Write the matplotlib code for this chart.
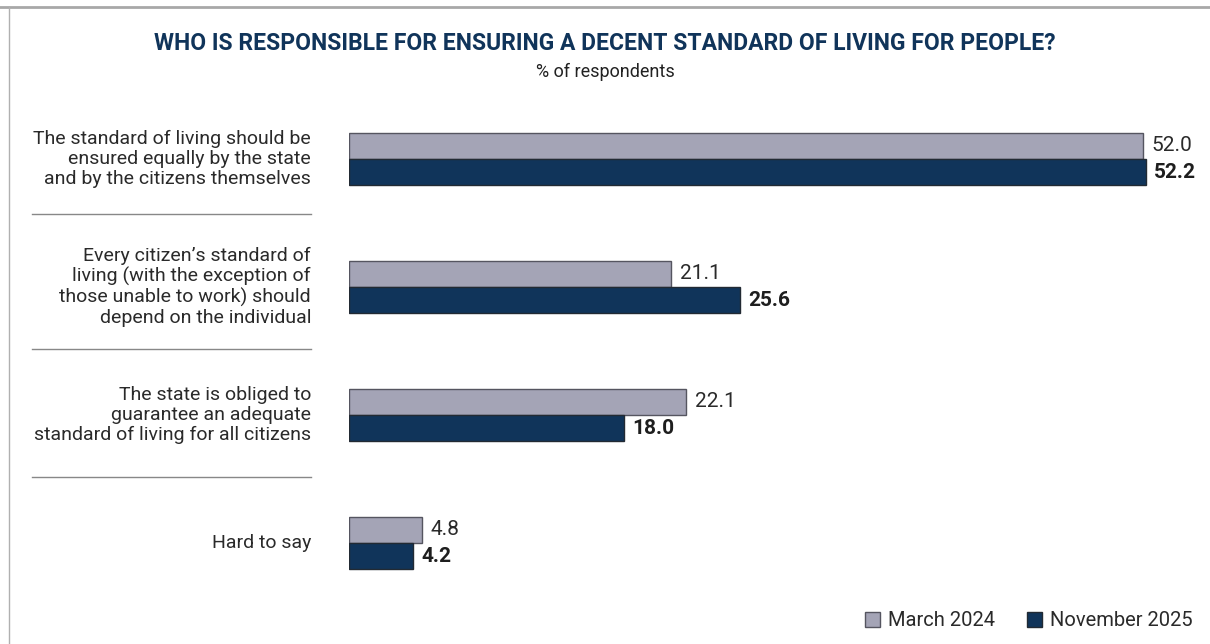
import numpy as np
import matplotlib.pyplot as plt
from matplotlib.lines import Line2D
from matplotlib.patches import Patch

plt.rcParams['font.family'] = ['Roboto', 'DejaVu Sans']

categories = [
    "The standard of living should be\nensured equally by the state\nand by the citizens themselves",
    "Every citizen\u2019s standard of\nliving (with the exception of\nthose unable to work) should\ndepend on the individual",
    "The state is obliged to\nguarantee an adequate\nstandard of living for all citizens",
    "Hard to say",
]
march_2024 = [52.0, 21.1, 22.1, 4.8]
nov_2025 = [52.2, 25.6, 18.0, 4.2]
series_names = ["March 2024", "November 2025"]

grey = "#a4a4b6"
navy = "#10345a"
W, H = 1210, 644

fig = plt.figure(figsize=(W / 100, H / 100), dpi=100)

# frame lines
fig.add_artist(Line2D([0, 1], [1 - 7 / H, 1 - 7 / H], color="#a8a8a8", lw=2))
fig.add_artist(Line2D([9 / W, 9 / W], [0, 1 - 7 / H], color="#b0b0b0", lw=1))

fig.text(605 / W, 1 - 43 / H, "WHO IS RESPONSIBLE FOR ENSURING A DECENT STANDARD OF LIVING FOR PEOPLE?",
         ha="center", va="center", fontsize=16.5, fontweight="bold", color=navy)
fig.text(605 / W, 1 - 72 / H, "% of respondents", ha="center", va="center",
         fontsize=13, color="#222222")

# bars axes: top at 95px, bottom at 607px, left at 349px
ax = fig.add_axes([349 / W, (H - 607) / H, (W - 349) / W, 512 / H])
y = np.arange(len(categories))
h = 0.205
ax.barh(y - h / 2, march_2024, height=h, color=grey, edgecolor="#555560", lw=1)
ax.barh(y + h / 2, nov_2025, height=h, color=navy, edgecolor="#222a33", lw=1)
ax.set_xlim(0, (W - 349) / 15.27)
ax.set_ylim(3.5, -0.5)
ax.axis("off")

for i in range(len(categories)):
    ax.annotate(f"{march_2024[i]:.1f}", (march_2024[i], y[i] - h / 2), xytext=(6, 0),
                textcoords="offset points", va="center", ha="left", fontsize=15, color="#2a2a2a")
    ax.annotate(f"{nov_2025[i]:.1f}", (nov_2025[i], y[i] + h / 2), xytext=(6, 0),
                textcoords="offset points", va="center", ha="left", fontsize=15,
                fontweight="bold", color="#1e1e1e")
    cy = 159 + 128 * i
    fig.text(311 / W, 1 - cy / H, categories[i], ha="right", va="center", fontsize=14,
             color="#2a2a2a", linespacing=1.12)

for sy in [214, 349, 477]:
    fig.add_artist(Line2D([32 / W, 311 / W], [1 - sy / H, 1 - sy / H], color="#888888", lw=1))

handles = [Patch(facecolor=grey, edgecolor="#555560"), Patch(facecolor=navy, edgecolor="#222a33")]
fig.legend(handles, series_names, loc="center right", bbox_to_anchor=(1211 / W, 1 - 621 / H),
           ncol=2, frameon=False, fontsize=14.5, handlelength=0.75, handleheight=0.75,
           handletextpad=0.4, columnspacing=1.6, labelcolor="#2a2a2a")

fig.savefig("out.png", dpi=100)
